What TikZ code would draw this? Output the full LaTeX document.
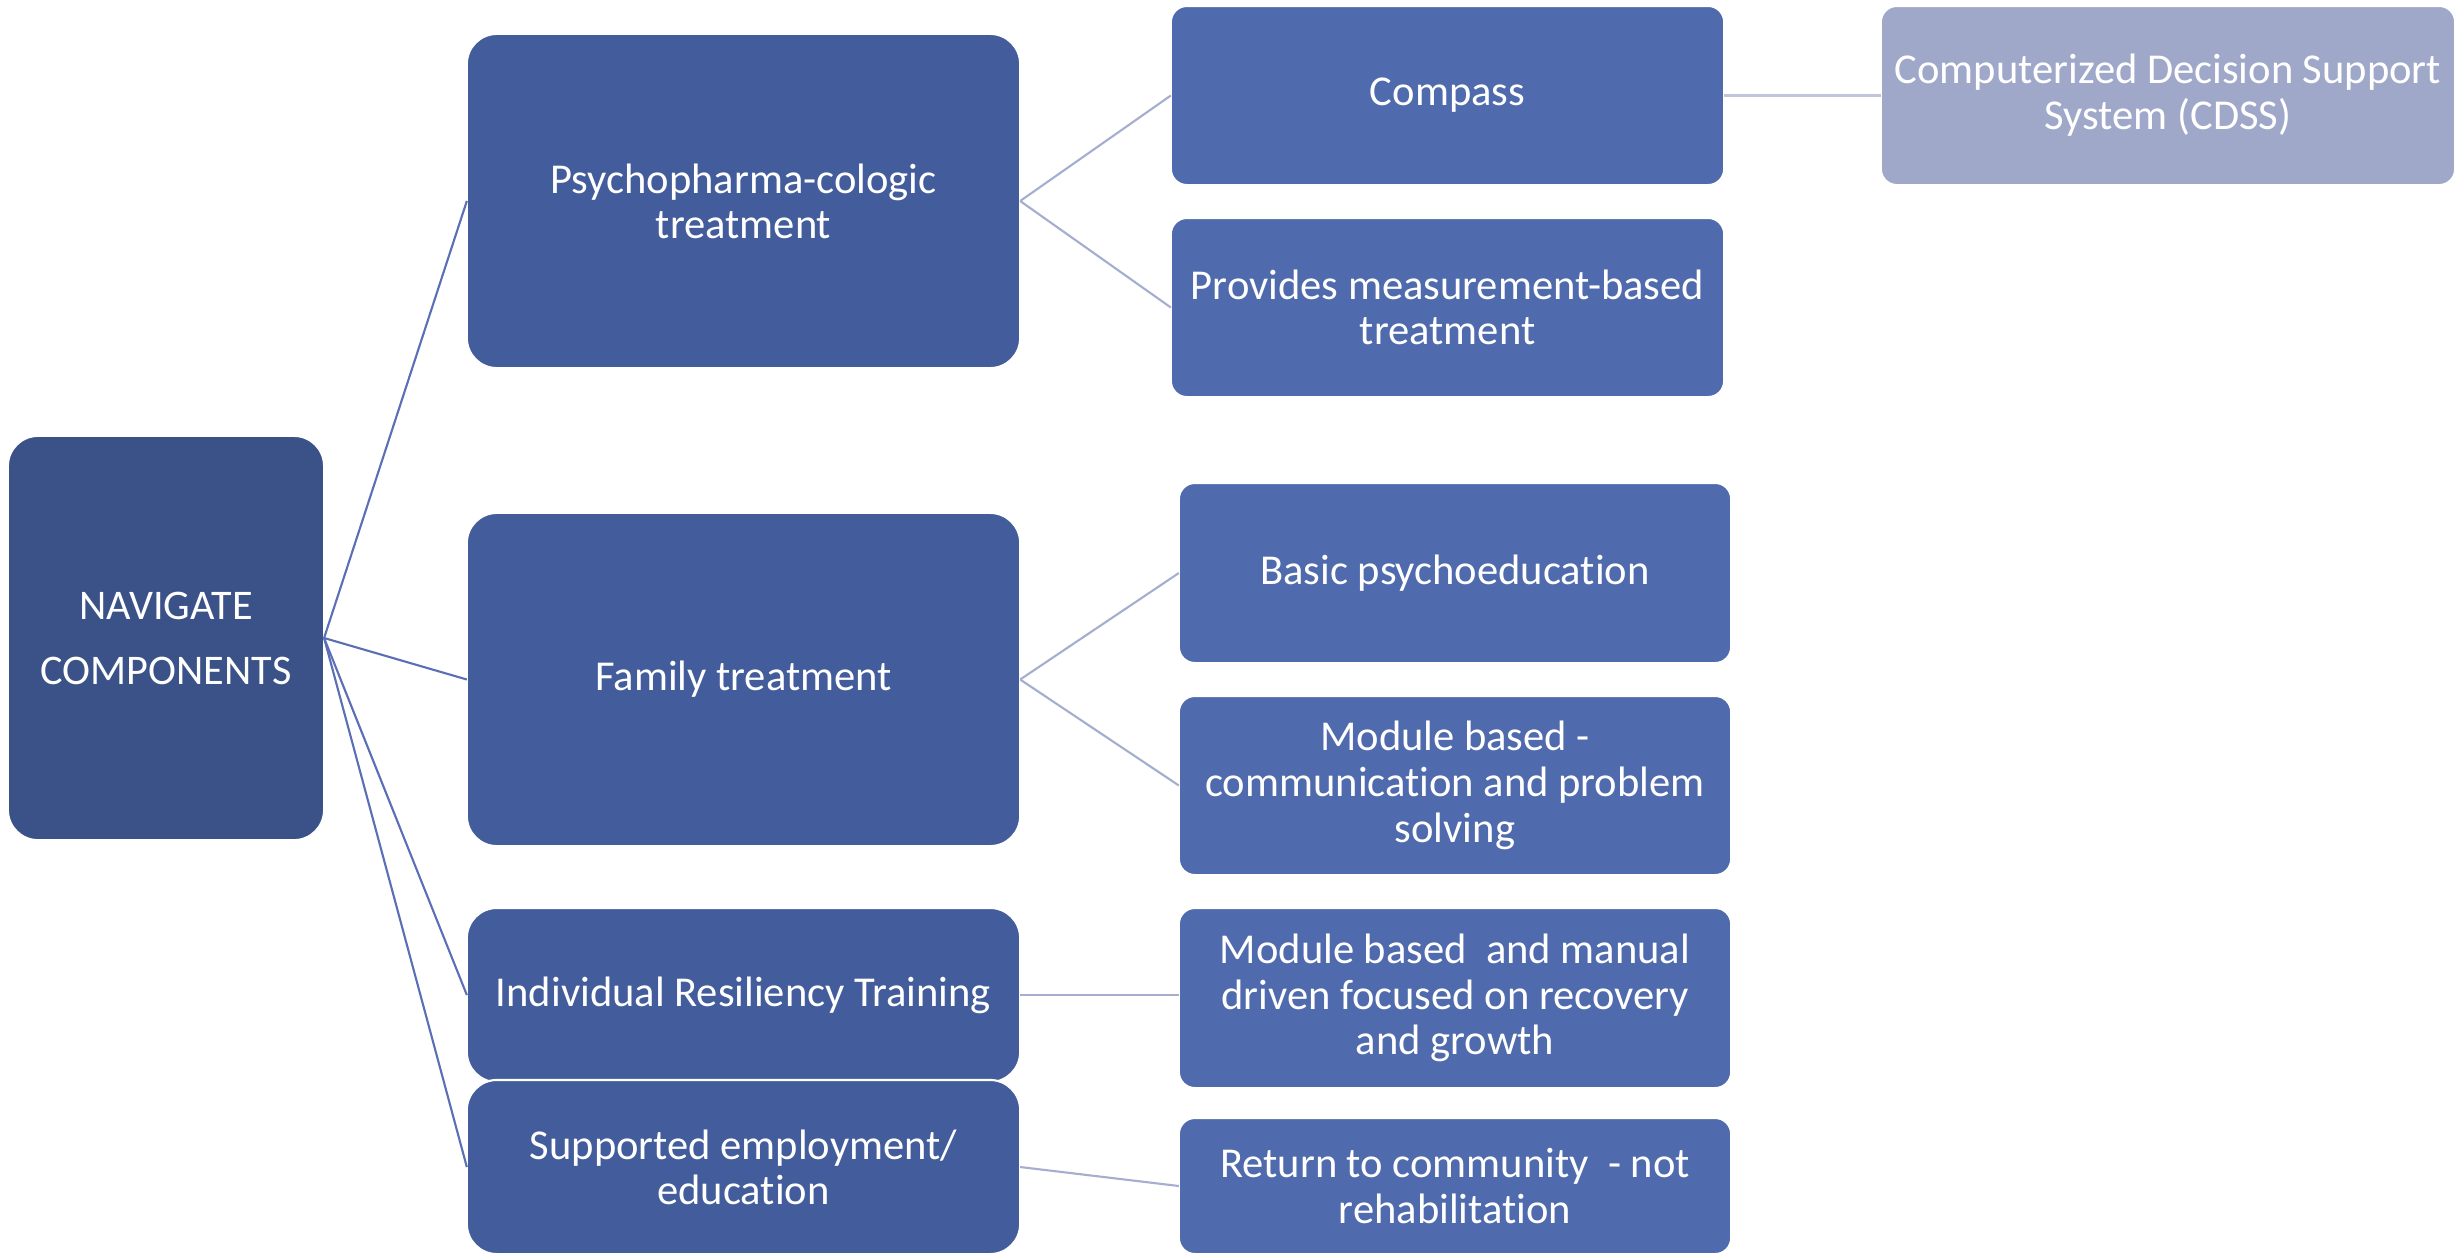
\documentclass[tikz,border=0pt]{standalone}
\usepackage{fontspec}
\setmainfont{Carlito}[Ligatures=NoCommon]
\definecolor{rootfill}{HTML}{3B5289}
\definecolor{midfill}{HTML}{435C9B}
\definecolor{leaffill}{HTML}{4F6AAD}
\definecolor{palefill}{HTML}{A0A8CA}
\definecolor{rootline}{HTML}{5A6FB5}
\definecolor{leafline}{HTML}{A5AECF}
\definecolor{paleline}{HTML}{C0C5DA}
\tikzset{
  boxbase/.style={rectangle, draw=white, line width=0.6pt, text=white, align=center,
    inner sep=0pt, outer sep=0pt},
  rootbox/.style={boxbase, fill=rootfill, rounded corners=0.3cm,
    font=\fontsize{12}{18.5}\selectfont},
  midbox/.style={boxbase, fill=midfill, rounded corners=0.3cm,
    font=\fontsize{12.1}{12.8}\selectfont},
  leafbox/.style={boxbase, fill=leaffill, rounded corners=0.16cm,
    font=\fontsize{12.1}{13}\selectfont},
  palebox/.style={boxbase, fill=palefill, rounded corners=0.16cm,
    font=\fontsize{12.1}{13}\selectfont},
  rootlink/.style={draw=rootline, line width=0.6pt},
  leaflink/.style={draw=leafline, line width=0.6pt},
  palelink/.style={draw=paleline, line width=0.7pt}
}
\begin{document}
\begin{tikzpicture}[x=0.01cm, y=-0.01cm]
\useasboundingbox[fill=white] (0,0) rectangle (2458,1254);

% root
\node[rootbox, minimum width=3.16cm, minimum height=4.04cm] (root) at (166,638)
  {NAVIGATE\\COMPONENTS};

% first level
\node[midbox, minimum width=5.53cm, minimum height=3.34cm] (psy) at (743.5,201)
  {Psychopharma-cologic\\treatment};
\node[midbox, minimum width=5.53cm, minimum height=3.33cm] (fam) at (743.5,679.5)
  {Family treatment};
\node[midbox, minimum width=5.53cm, minimum height=1.74cm] (irt) at (743.5,995)
  {Individual Resiliency Training};
\node[midbox, minimum width=5.53cm, minimum height=1.74cm] (sup) at (743.5,1167)
  {Supported employment/\\education};

% second level
\node[leafbox, minimum width=5.53cm, minimum height=1.79cm] (comp) at (1447.5,95.5)
  {Compass};
\node[leafbox, minimum width=5.53cm, minimum height=1.79cm] (prov) at (1447.5,307.5)
  {Provides measurement-based\\treatment};
\node[leafbox, minimum width=5.52cm, minimum height=1.80cm] (basic) at (1455,573)
  {Basic psychoeducation};
\node[leafbox, minimum width=5.52cm, minimum height=1.79cm] (modc) at (1455,785.5)
  {Module based -\\communication and problem\\solving};
\node[leafbox, minimum width=5.52cm, minimum height=1.80cm] (modm) at (1455,998)
  {Module based\ \ and manual\\driven focused on recovery\\and growth};
\node[leafbox, minimum width=5.52cm, minimum height=1.36cm] (ret) at (1455,1186)
  {Return to community\ \ - not\\rehabilitation};

% third level
\node[palebox, minimum width=5.74cm, minimum height=1.79cm] (cdss) at (2168,95.5)
  {Computerized Decision Support\\System (CDSS)};

% connectors
\draw[rootlink] (root.east) -- (psy.west);
\draw[rootlink] (root.east) -- (fam.west);
\draw[rootlink] (root.east) -- (irt.west);
\draw[rootlink] (root.east) -- (sup.west);

\draw[leaflink] (psy.east) -- (comp.west);
\draw[leaflink] (psy.east) -- (prov.west);
\draw[leaflink] (fam.east) -- (basic.west);
\draw[leaflink] (fam.east) -- (modc.west);
\draw[leaflink] (irt.east) -- (irt.east -| modm.west);
\draw[leaflink] (sup.east) -- (ret.west);

\draw[palelink] (comp.east) -- (cdss.west);
\end{tikzpicture}
\end{document}
